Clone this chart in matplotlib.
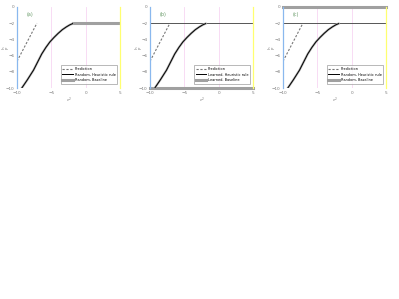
import numpy as np
import matplotlib.pyplot as plt

# data (x: log scale exponent, y: log value)
curve_x = [-9.3, -8.5, -7.6, -7.0, -6.4, -5.8, -5.2, -4.6, -4.0, -3.4, -2.8, -2.3, -1.9]
curve_y = [-10.0, -9.0, -7.8, -6.8, -5.8, -5.0, -4.3, -3.75, -3.25, -2.8, -2.45, -2.2, -2.05]
pred_x = [-10.0, -7.1]
pred_y = [-6.7, -2.0]
plateau_x = [-1.9, 5.0]
plateau_y = [-2.0, -2.0]
level = -2.0
base_b = -10.0
base_c = 0.0

panel_tags = ['(a)', '(b)', '(c)']
legend_labels = [
    ['Prediction', 'Random, Heuristic rule', 'Random, Baseline'],
    ['Prediction', 'Learned, Heuristic rule', 'Learned, Baseline'],
    ['Prediction', 'Random, Heuristic rule', 'Random, Baseline'],
]
xticks = [-10, -5, 0, 5]
yticks = [-10, -8, -6, -4, -2, 0]

fig = plt.figure(figsize=(3.99, 2.99), dpi=100)
lefts = [17 / 399, 150 / 399, 283 / 399]
w = 103 / 399
b = 1 - 88 / 299
h = 81 / 299

for i in range(3):
    ax = fig.add_axes([lefts[i], b, w, h])
    ax.set_xlim(-10, 5)
    ax.set_ylim(-10, 0)
    for gx in [-5, 0]:
        ax.axvline(gx, color='#f7d6f3', lw=0.6, zorder=0)
    if i == 0:
        l3, = ax.plot(plateau_x, plateau_y, color='#a0a0a0', lw=2.2)
    elif i == 1:
        ax.axhline(level, color='#555555', lw=0.7)
        l3 = ax.axhline(base_b, color='#a0a0a0', lw=2.2, clip_on=False)
    else:
        ax.axhline(level, color='#555555', lw=0.7)
        l3 = ax.axhline(base_c, color='#a0a0a0', lw=2.2, clip_on=False)
    l1, = ax.plot(pred_x, pred_y, color='#777777', ls=(0, (2, 1.5)), lw=0.8)
    ax.plot(curve_x, curve_y, color='#b0b0b0', lw=1.6)
    l2, = ax.plot(curve_x, curve_y, color='black', lw=0.7)
    leg = ax.legend([l1, l2, l3], legend_labels[i], loc='lower right', fontsize=2.5,
                    frameon=True, fancybox=False, edgecolor='#999999', borderpad=0.5,
                    handlelength=3, handletextpad=0.5, labelspacing=0.45,
                    bbox_to_anchor=(0.99, 0.03))
    leg.get_frame().set_linewidth(0.6)
    ax.text(-8.6, -0.9, panel_tags[i], fontsize=3.5, color='#669966', va='center')
    ax.set_xticks(xticks)
    ax.set_yticks(yticks)
    ax.tick_params(length=0, labelsize=3, pad=2, colors='#777777')
    ax.spines['top'].set_visible(False)
    ax.spines['bottom'].set_visible(False)
    ax.spines['left'].set_color('#8ab8ee')
    ax.spines['right'].set_color('#ffff70')
    ax.spines['left'].set_linewidth(0.9)
    ax.spines['right'].set_linewidth(0.9)
    ax.set_xlabel('$\\epsilon^2$', fontsize=3, labelpad=1, color='#777777')
    ax.set_ylabel('ln\nP', fontsize=2.8, color='#777777', linespacing=0.9)
    ax.yaxis.set_label_coords(-0.075, 0.5)

fig.savefig('out.png', dpi=100)
